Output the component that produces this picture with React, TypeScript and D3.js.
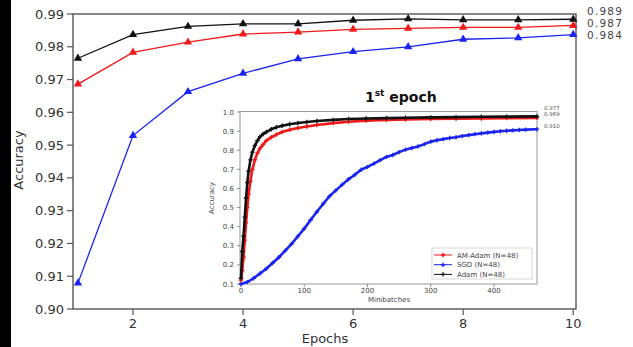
import React from 'react';
import * as d3 from 'd3';

// main chart: accuracy per epoch
const epochs = [1, 2, 3, 4, 5, 6, 7, 8, 9, 10];
const adamEpoch = [0.9765, 0.9837, 0.9862, 0.987, 0.987, 0.9881, 0.9885, 0.9882, 0.9882, 0.9884];
const amAdamEpoch = [0.9686, 0.9783, 0.9814, 0.9839, 0.9845, 0.9853, 0.9856, 0.9859, 0.9859, 0.9865];
const sgdEpoch = [0.9079, 0.9529, 0.9663, 0.9719, 0.9763, 0.9785, 0.98, 0.9823, 0.9827, 0.9837];
const finalLabels = ['0.989', '0.987', '0.984'];
const yTicks = [0.9, 0.91, 0.92, 0.93, 0.94, 0.95, 0.96, 0.97, 0.98, 0.99];
const xTicks = [2, 4, 6, 8, 10];

// inset: first epoch per minibatch
const fastBatches = [0, 2, 4, 6, 8, 10, 12, 15, 18, 22, 26, 30, 35, 40, 48, 56, 65, 77, 90, 104, 120, 146, 170, 198, 230, 260, 300, 340, 380, 420, 468];
const adamBatch = [0.13, 0.27, 0.35, 0.45, 0.55, 0.63, 0.69, 0.75, 0.79, 0.825, 0.85, 0.87, 0.885, 0.895, 0.91, 0.92, 0.928, 0.936, 0.942, 0.948, 0.953, 0.959, 0.963, 0.966, 0.968, 0.97, 0.972, 0.973, 0.975, 0.976, 0.977];
const amAdamBatch = [0.12, 0.17, 0.24, 0.33, 0.42, 0.5, 0.57, 0.64, 0.7, 0.75, 0.785, 0.81, 0.83, 0.85, 0.868, 0.882, 0.895, 0.907, 0.916, 0.924, 0.932, 0.942, 0.949, 0.955, 0.958, 0.961, 0.963, 0.965, 0.966, 0.968, 0.969];
const sgdBatches = [0, 10, 20, 30, 40, 50, 60, 70, 80, 90, 100, 110, 120, 130, 140, 150, 160, 170, 180, 190, 200, 210, 220, 230, 240, 250, 260, 270, 280, 290, 300, 310, 320, 330, 340, 350, 360, 370, 380, 390, 400, 410, 420, 430, 440, 450, 468];
const sgdBatch = [0.1, 0.11, 0.13, 0.155, 0.18, 0.21, 0.24, 0.275, 0.31, 0.35, 0.39, 0.435, 0.478, 0.52, 0.56, 0.59, 0.62, 0.648, 0.672, 0.698, 0.713, 0.73, 0.748, 0.765, 0.775, 0.79, 0.803, 0.812, 0.82, 0.832, 0.845, 0.852, 0.858, 0.864, 0.868, 0.874, 0.879, 0.884, 0.888, 0.892, 0.896, 0.899, 0.902, 0.904, 0.906, 0.908, 0.91];
const insetYTicks = [0.1, 0.2, 0.3, 0.4, 0.5, 0.6, 0.7, 0.8, 0.9, 1.0];
const insetXTicks = [0, 100, 200, 300, 400];
const insetFinal = ['0.977', '0.969', '0.910'];
const legendNames = ['AM-Adam (N=48)', 'SGD (N=48)', 'Adam (N=48)'];

const RED = '#f01818';
const BLUE = '#1a24f0';
const BLACK = '#111';
const FONT = 'DejaVu Sans, sans-serif';

const App = () => {
  // main plot area
  const x = d3.scaleLinear().domain([0.91, 10.05]).range([73, 576]);
  const y = d3.scaleLinear().domain([0.9, 0.99]).range([309, 14]);
  const line = d3.line<number>().x((_, i) => x(epochs[i])).y(d => y(d));

  // inset area
  const ix = d3.scaleLinear().domain([0, 468]).range([241, 537]);
  const iy = d3.scaleLinear().domain([0.1, 1.0]).range([284, 112]);
  const fastLine = d3.line<number>().x((_, i) => ix(fastBatches[i])).y(d => iy(d));
  const sgdLine = d3.line<number>().x((_, i) => ix(sgdBatches[i])).y(d => iy(d));

  const tri = d3.symbol(d3.symbolTriangle, 30)();
  const plus = 'M-2.2,0H2.2M0,-2.2V2.2';

  const mainSeries = [
    { vals: sgdEpoch, color: BLUE },
    { vals: amAdamEpoch, color: RED },
    { vals: adamEpoch, color: BLACK },
  ];
  const insetSeries = [
    { xs: sgdBatches, vals: sgdBatch, color: BLUE, gen: sgdLine },
    { xs: fastBatches, vals: amAdamBatch, color: RED, gen: fastLine },
    { xs: fastBatches, vals: adamBatch, color: BLACK, gen: fastLine },
  ];

  return (
    <svg width={633} height={347} style={{ position: 'absolute', left: 0, top: 0, background: '#fff' }} fontFamily={FONT}>
      <rect x={0} y={0} width={11} height={347} fill="#000" />

      {/* main axes */}
      <rect x={73} y={14} width={503} height={295} fill="none" stroke="#555" strokeWidth={1.4} />
      {yTicks.map(t => (
        <g key={t}>
          <line x1={67} x2={73} y1={y(t)} y2={y(t)} stroke="#555" strokeWidth={1.2} />
          <text x={64} y={y(t) + 4.5} textAnchor="end" fontSize={13} fill="#333">{t.toFixed(2)}</text>
        </g>
      ))}
      {xTicks.map(t => (
        <g key={t}>
          <line x1={x(t)} x2={x(t)} y1={309} y2={315} stroke="#555" strokeWidth={1.2} />
          <text x={x(t)} y={328} textAnchor="middle" fontSize={13} fill="#333">{t}</text>
        </g>
      ))}
      <text x={325} y={343} textAnchor="middle" fontSize={13} fill="#333">Epochs</text>
      <text transform="translate(23,160) rotate(-90)" textAnchor="middle" fontSize={13} fill="#333">Accuracy</text>

      {mainSeries.map((s, k) => (
        <g key={k}>
          <path d={line(s.vals) || ''} fill="none" stroke={s.color} strokeWidth={1.3} />
          {s.vals.map((v, i) => (
            <path key={i} d={tri || ''} transform={`translate(${x(epochs[i])},${y(v)})`} fill={s.color} />
          ))}
        </g>
      ))}
      {finalLabels.map((l, i) => (
        <text key={l} x={587} y={[15, 27, 39][i]} fontSize={10.5} fill="#444" letterSpacing={1.2}>{l}</text>
      ))}

      {/* inset */}
      <text x={365} y={102} fontSize={14} fontWeight="bold" fill="#111">
        1<tspan fontSize={9} dy={-6}>st</tspan><tspan dy={6}> epoch</tspan>
      </text>
      <rect x={240} y={111.5} width={297} height={172.5} fill="#fff" stroke="#999" strokeWidth={1} />
      {insetYTicks.map(t => (
        <g key={t}>
          <line x1={237} x2={240} y1={iy(t)} y2={iy(t)} stroke="#777" strokeWidth={0.8} />
          <text x={234} y={iy(t) + 2.5} textAnchor="end" fontSize={7} fill="#444">{t.toFixed(1)}</text>
        </g>
      ))}
      {insetXTicks.map(t => (
        <g key={t}>
          <line x1={ix(t)} x2={ix(t)} y1={284} y2={287} stroke="#777" strokeWidth={0.8} />
          <text x={ix(t)} y={293} textAnchor="middle" fontSize={7} fill="#444">{t}</text>
        </g>
      ))}
      <text x={389} y={302} textAnchor="middle" fontSize={7} fill="#444">Minibatches</text>
      <text transform="translate(214,198) rotate(-90)" textAnchor="middle" fontSize={7} fill="#444">Accuracy</text>

      {insetSeries.map((s, k) => (
        <g key={k}>
          <path d={s.gen(s.vals) || ''} fill="none" stroke={s.color} strokeWidth={2.6} />
          {s.vals.map((v, i) => (
            <path key={i} d={plus} transform={`translate(${ix(s.xs[i])},${iy(v)})`} stroke={s.color} strokeWidth={1.3} />
          ))}
        </g>
      ))}
      {insetFinal.map((l, i) => (
        <text key={l} x={544} y={[109.5, 115.5, 128][i]} fontSize={5.5} fill="#555">{l}</text>
      ))}

      {/* inset legend */}
      <rect x={432} y={248} width={100} height={31} fill="#fff" stroke="#ccc" strokeWidth={0.8} />
      {legendNames.map((n, i) => {
        const c = [RED, BLUE, BLACK][i];
        const ly = 255 + i * 9.7;
        return (
          <g key={n}>
            <line x1={434} x2={452} y1={ly} y2={ly} stroke={c} strokeWidth={1} />
            <path d={plus} transform={`translate(443,${ly})`} stroke={c} strokeWidth={1.4} />
            <text x={457} y={ly + 2.5} fontSize={7} fill="#444">{n}</text>
          </g>
        );
      })}
    </svg>
  );
};

export default App;
